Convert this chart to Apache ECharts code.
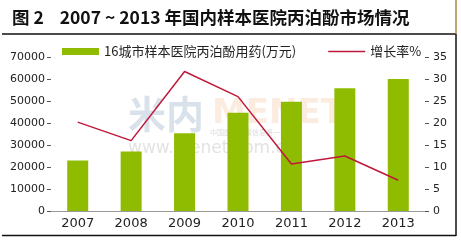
<!DOCTYPE html>
<html><head><meta charset="utf-8">
<script src="https://cdn.jsdelivr.net/npm/echarts@6/dist/echarts.min.js"></script>
<style>html,body{margin:0;padding:0;background:#fff}#c{width:461px;height:243px}</style>
</head><body><div id="c"></div>
<script>
const categories = ['2007','2008','2009','2010','2011','2012','2013'];
const salesValues = [23000, 27000, 35300, 44700, 49700, 55800, 60000];
const growthValues = [20.2, 16.0, 31.7, 26.0, 10.7, 12.5, 7.0];
const leftTicks = [0, 10000, 70000];
const rightTicks = [0, 5, 35];
const titleText = '图 2    2007 ~ 2013 年国内样本医院丙泊酚市场情况';
const barName = '16城市样本医院丙泊酚用药(万元)';
const lineName = '增长率%';

const chart = echarts.init(document.getElementById('c'), null, {renderer:'canvas'});
const lblFont = {fontFamily:'DejaVu Sans', color:'#222'};
chart.setOption({
  animation:false,
  title:{text:titleText, left:7, top:4, textStyle:{fontFamily:'Noto Sans CJK SC', fontWeight:'bold', fontSize:17.5, color:'#111'}},
  graphic:[
    {type:'line', shape:{x1:2,y1:34,x2:456,y2:34}, style:{stroke:'#111', lineWidth:1.5}},
    {type:'line', shape:{x1:456,y1:0,x2:456,y2:34}, style:{stroke:'#a88840', lineWidth:1.5}},
    {type:'line', shape:{x1:456,y1:34,x2:456,y2:236}, style:{stroke:'#111', lineWidth:1.5}},
    {type:'line', shape:{x1:2,y1:235.5,x2:456,y2:235.5}, style:{stroke:'#111', lineWidth:1.5}},
    {type:'text', left:128, top:95, z:-1, style:{text:'米内', font:'bold 38px "Noto Sans CJK SC"', fill:'rgba(120,150,180,0.28)'}},
    {type:'text', left:212, top:97, z:-1, style:{text:'MENET', font:'bold 34px "DejaVu Sans"', fill:'rgba(240,170,110,0.22)'}},
    {type:'text', left:210, top:129, z:-1, style:{text:'中国医药健康信息第一平台', font:'7px "Noto Sans CJK SC"', fill:'rgba(150,150,150,0.35)'}},
    {type:'text', left:128, top:140, z:-1, style:{text:'www.menet.com.cn', font:'17px "DejaVu Sans"', fill:'rgba(150,150,150,0.28)'}}
  ],
  legend:{top:40, left:57, itemGap:32, itemWidth:37, itemHeight:7,
    textStyle:{fontFamily:'Noto Sans CJK SC', fontSize:13, color:'#222'},
    data:[{name:barName, icon:'rect'},{name:lineName, icon:'path://M0,0H40V1.5H0Z', itemStyle:{color:'#c0183a'}}]},
  grid:{left:51, right:36, top:57, bottom:32},
  xAxis:{type:'category', data:categories,
    axisLine:{lineStyle:{color:'#999'}},
    axisTick:{inside:true, length:4, lineStyle:{color:'#777'}},
    axisLabel:Object.assign({fontSize:13, margin:6}, lblFont)},
  yAxis:[
    {type:'value', min:leftTicks[0], max:leftTicks[2], interval:leftTicks[1],
      splitLine:{show:false}, axisLine:{show:false},
      axisTick:{show:true, length:4, lineStyle:{color:'#555'}},
      axisLabel:Object.assign({fontSize:11, margin:6, formatter:v=>String(v)}, lblFont)},
    {type:'value', min:rightTicks[0], max:rightTicks[2], interval:rightTicks[1],
      splitLine:{show:false}, axisLine:{show:false},
      axisTick:{show:true, length:4, lineStyle:{color:'#555'}},
      axisLabel:Object.assign({fontSize:11, margin:8}, lblFont)}
  ],
  series:[
    {name:barName, type:'bar', data:salesValues, barWidth:21, itemStyle:{color:'#8fbc00'}},
    {name:lineName, type:'line', yAxisIndex:1, data:growthValues, symbol:'none',
      lineStyle:{color:'#c0183a', width:1.5}, itemStyle:{color:'#c0183a'}}
  ]
});
</script></body></html>
